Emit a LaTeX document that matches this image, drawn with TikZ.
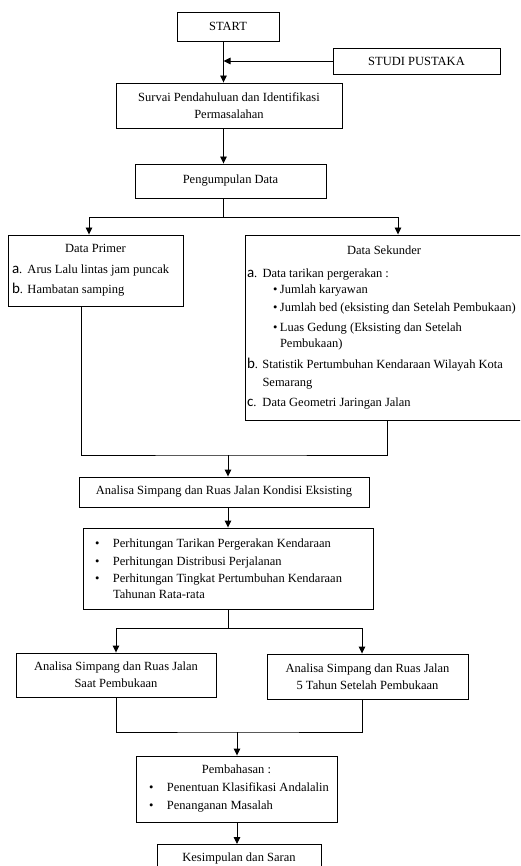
\documentclass[tikz,border=0pt]{standalone}
\usepackage{fontspec}
\setmainfont{Liberation Serif}
\newfontfamily\labfont{Carlito}
\usepackage{tikz}
\usetikzlibrary{arrows.meta}

\newcommand{\lab}[1]{\makebox[15.5pt][l]{{\labfont\fontsize{15}{17}\selectfont #1}.}}
\newcommand{\itm}{\makebox[7pt][l]{\textbullet}}
\newcommand{\blt}{\makebox[18pt][l]{\textbullet}}

\tikzset{
  box/.style={draw, line width=0.9pt, inner sep=2pt, align=center,
    font=\fontsize{12.5pt}{17pt}\selectfont},
  listbox/.style={box, align=flush left},
  arr/.style={line width=0.9pt, -{Triangle[length=7pt,width=6.5pt]}},
  con/.style={line width=0.9pt}
}

\begin{document}
\begin{tikzpicture}[x=1pt, y=-1pt]
      \useasboundingbox (0,0) rectangle (520,866);
      \clip (0,0) rectangle (520,866);
      \node[box, minimum width=102pt, minimum height=29pt] (start) at (228,26.5) {START};
      \node[box, minimum width=167pt, minimum height=26pt] (studi) at (416.5,61) {STUDI PUSTAKA};
      \node[box, minimum width=226pt, minimum height=45pt] (survai) at (229,105.5)
        {Survai Pendahuluan dan Identifikasi\\Permasalahan};
      \node[box, minimum width=191pt, minimum height=34pt] (kumpul) at (230.5,181) {Pengumpulan Data};
      \node[listbox, text width=171pt, minimum height=71pt] (primer) at (95.5,270.5)
        {\makebox[\linewidth]{Data Primer}\\[4pt]
         \hspace*{2pt}\lab{a}Arus Lalu lintas jam puncak\\[3pt]
         \hspace*{2pt}\lab{b}Hambatan samping};
      \node[listbox, text width=274pt, minimum height=185pt] (sekunder) at (384,327.5)
        {\makebox[\linewidth]{Data Sekunder}\\[6pt]
         \lab{a}Data tarikan pergerakan :\\[-1pt]
         \hspace*{26pt}\itm Jumlah karyawan\\[1pt]
         \hspace*{26pt}\itm Jumlah bed (eksisting dan Setelah Pembukaan)\\[3pt]
         \hspace*{26pt}\itm Luas Gedung (Eksisting dan Setelah\\[-1pt]
         \hspace*{33pt}Pembukaan)\\[4pt]
         \lab{b}Statistik Pertumbuhan Kendaraan Wilayah Kota\\[1pt]
         \hspace*{15.5pt}Semarang\\[3pt]
         \lab{c}Data Geometri Jaringan Jalan};
      \node[box, minimum width=290pt, minimum height=30pt] (eksis) at (224,492)
        {Analisa Simpang dan Ruas Jalan Kondisi Eksisting};
      \node[listbox, text width=286pt, minimum height=81pt] (hitung) at (228,568.5)
        {\hspace*{10pt}\blt Perhitungan Tarikan Pergerakan Kendaraan\\[1pt]
         \hspace*{10pt}\blt Perhitungan Distribusi Perjalanan\\
         \hspace*{10pt}\blt Perhitungan Tingkat Pertumbuhan Kendaraan\\[-1pt]
         \hspace*{28pt}Tahunan Rata-rata};
      \node[box, minimum width=200pt, minimum height=44pt] (saat) at (116,675)
        {Analisa Simpang dan Ruas Jalan\\Saat Pembukaan};
      \node[box, minimum width=201pt, minimum height=45pt] (lima) at (367.5,676.5)
        {Analisa Simpang dan Ruas Jalan\\5 Tahun Setelah Pembukaan};
      \node[listbox, text width=197pt, minimum height=66pt] (bahas) at (236.5,789)
        {\makebox[\linewidth]{Pembahasan :}\\[1pt]
         \hspace*{11pt}\blt Penentuan Klasifikasi Andalalin\\[1pt]
         \hspace*{11pt}\blt Penanganan Masalah};
      \node[box, anchor=north, minimum width=164pt, minimum height=28pt] (simpul) at (239,844)
        {Kesimpulan dan Saran};

      \coordinate (spine) at (223.5,0);
      \coordinate (split) at (223.5,217);
      \coordinate (merge) at (228,455);
      \coordinate (split2) at (228,628);
      \coordinate (merge2) at (237,732);

      \draw[arr] (start.south -| spine) -- (survai.north -| spine);
      \draw[arr] (studi.west) -- (studi.west -| spine);
      \draw[arr] (survai.south -| spine) -- (kumpul.north -| spine);
      \draw[con] (kumpul.south -| spine) -- (split);
      \draw[arr] (split) -| ([xshift=-6.5pt]primer.north);
      \draw[arr] (split) -| ([xshift=14pt]sekunder.north);
      \draw[con] ([xshift=-14.5pt]primer.south) |- (merge) -| ([xshift=3pt]sekunder.south);
      \draw[arr] (merge) -- (merge |- eksis.north);
      \draw[arr] (eksis.south -| merge) -- (hitung.north -| merge);
      \draw[con] (hitung.south -| split2) -- (split2);
      \draw[arr] (split2) -| (saat.north);
      \draw[arr] (split2) -| ([xshift=-5.5pt]lima.north);
      \draw[con] (saat.south) |- (merge2) -| ([xshift=-5.5pt]lima.south);
      \draw[arr] (merge2) -- (merge2 |- bahas.north);
      \draw[arr] (bahas.south -| merge2) -- (simpul.north -| merge2);
    \end{tikzpicture}
\end{document}
